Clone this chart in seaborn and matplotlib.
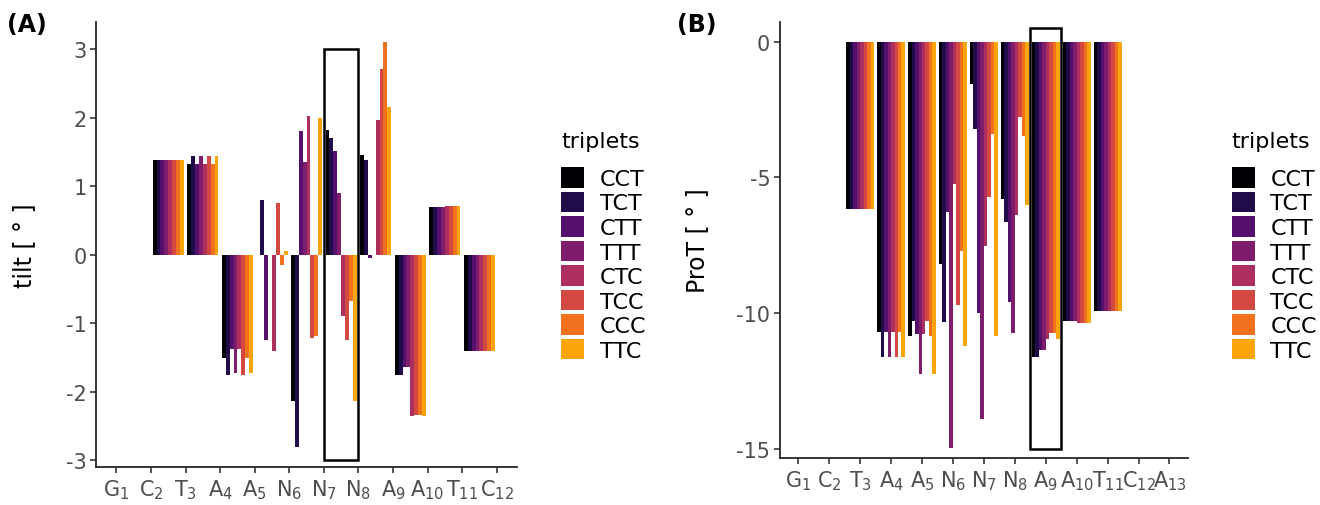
import matplotlib
matplotlib.use("Agg")
import matplotlib.pyplot as plt
import pandas as pd
import seaborn as sns
from matplotlib.patches import Rectangle


sns.set_style("ticks")
plt.rcParams["font.family"] = ["DejaVu Sans"]
plt.rcParams["axes.unicode_minus"] = False
plt.rcParams["text.color"] = "black"
plt.rcParams["axes.labelcolor"] = "black"

# nucleotide positions along the sequence
bases_a = ["G1", "C2", "T3", "A4", "A5", "N6", "N7", "N8", "A9", "A10", "T11", "C12"]
bases_b = bases_a + ["A13"]

triplets = ["CCT", "TCT", "CTT", "TTT", "CTC", "TCC", "CCC", "TTC"]
triplet_colors = ["#000004", "#1f0c48", "#550f6d", "#7e1d6c",
                  "#ac2f5e", "#d44842", "#f2711e", "#fca50a"]

# tilt is a step parameter: first base of each step
tilt_steps = ["C2", "T3", "A4", "A5", "N6", "N7", "N8", "A9", "A10", "T11"]
tilt_cct = [1.38, 1.33, -1.50, -0.01, -2.14, 1.82, 1.45, -1.76, 0.70, -1.41]
tilt_tct = [1.38, 1.44, -1.76, 0.80, -2.81, 1.71, 1.39, -1.76, 0.70, -1.41]
tilt_ctt = [1.38, 1.33, -1.37, -1.25, 1.81, 1.52, -0.04, -1.63, 0.70, -1.41]
tilt_ttt = [1.38, 1.44, -1.72, 0.00, 1.36, 0.90, -0.01, -1.63, 0.70, -1.41]
tilt_ctc = [1.38, 1.33, -1.37, -1.40, 2.03, -0.90, 1.97, -2.35, 0.71, -1.41]
tilt_tcc = [1.38, 1.44, -1.76, 0.76, -1.22, -1.24, 2.71, -2.33, 0.71, -1.41]
tilt_ccc = [1.38, 1.33, -1.50, -0.15, -1.18, -0.68, 3.11, -2.33, 0.71, -1.41]
tilt_ttc = [1.38, 1.44, -1.72, 0.06, 2.00, -2.14, 2.16, -2.35, 0.71, -1.41]

# propeller twist is a base-pair parameter
prot_bases = ["T3", "A4", "A5", "N6", "N7", "N8", "A9", "A10", "T11"]
prot_cct = [-6.17, -10.69, -10.84, -8.19, -1.56, -5.80, -11.62, -10.30, -9.93]
prot_tct = [-6.17, -11.62, -10.30, -10.33, -3.22, -6.65, -11.62, -10.30, -9.93]
prot_ctt = [-6.17, -10.69, -10.76, -6.28, -10.00, -9.59, -11.36, -10.30, -9.93]
prot_ttt = [-6.17, -11.62, -12.25, -14.98, -13.91, -10.74, -11.36, -10.30, -9.93]
prot_ctc = [-6.17, -10.69, -10.76, -5.25, -7.53, -6.39, -10.96, -10.37, -9.93]
prot_tcc = [-6.17, -11.62, -10.30, -9.71, -5.73, -2.78, -10.74, -10.37, -9.93]
prot_ccc = [-6.17, -10.69, -10.84, -7.71, -3.40, -3.48, -10.74, -10.37, -9.93]
prot_ttc = [-6.17, -11.62, -12.25, -11.21, -10.84, -6.02, -10.96, -10.37, -9.93]

# highlighted step / base pair
highlight_a = "N7"
highlight_b = "A9"


def base_label(name):
    return "$\\mathregular{%s_{%s}}$" % (name[0], name[1:])


def long_table(labels, offset, series):
    rows = []
    for trip, values in zip(triplets, series):
        for lab, val in zip(labels, values):
            rows.append({"pos": bases_b.index(lab) + 1 + offset, "triplet": trip, "value": val})
    return pd.DataFrame(rows)


tilt_df = long_table(tilt_steps, 0.5, [tilt_cct, tilt_tct, tilt_ctt, tilt_ttt,
                                       tilt_ctc, tilt_tcc, tilt_ccc, tilt_ttc])
prot_df = long_table(prot_bases, 0.0, [prot_cct, prot_tct, prot_ctt, prot_ttt,
                                       prot_ctc, prot_tcc, prot_ccc, prot_ttc])

fig = plt.figure(figsize=(13.2, 5.06), dpi=100)
ax_a = fig.add_axes([0.0730, 0.0745, 0.3185, 0.8806])
ax_b = fig.add_axes([0.5909, 0.0923, 0.3089, 0.8628])

for ax, df in [(ax_a, tilt_df), (ax_b, prot_df)]:
    sns.barplot(
        data=df, x="pos", y="value", hue="triplet", hue_order=triplets,
        palette=triplet_colors, native_scale=True, width=0.9, gap=0,
        errorbar=None, saturation=1, linewidth=0, ax=ax,
    )

ax_a.set_xlim(0.42, 12.58)
ax_a.set_ylim(-3.10, 3.40)
ax_a.set_xticks(range(1, len(bases_a) + 1))
ax_a.set_xticklabels([base_label(b) for b in bases_a])
ax_a.set_yticks(range(-3, 4))
ax_a.set_ylabel("tilt [ ° ]", fontsize=17)
ax_a.yaxis.set_label_coords(-0.143, 0.5)

ax_b.set_xlim(0.41, 13.59)
ax_b.set_ylim(-15.36, 0.74)
ax_b.set_xticks(range(1, len(bases_b) + 1))
ax_b.set_xticklabels([base_label(b) for b in bases_b])
ax_b.set_yticks([-15, -10, -5, 0])
ax_b.set_ylabel("ProT [ ° ]", fontsize=17)
ax_b.yaxis.set_label_coords(-0.175, 0.5)

# boxes around the highlighted step / base pair
pa = bases_a.index(highlight_a) + 1
ax_a.add_patch(Rectangle((pa, -3), 1, 6, fill=False, edgecolor="black", linewidth=1.8, zorder=5))
pb = bases_b.index(highlight_b) + 1
ax_b.add_patch(Rectangle((pb - 0.5, -15), 1, 15.5, fill=False, edgecolor="black", linewidth=1.8, zorder=5))

for ax in (ax_a, ax_b):
    sns.despine(ax=ax)
    ax.set_xlabel("")
    for side in ("left", "bottom"):
        ax.spines[side].set_linewidth(1.3)
    ax.tick_params(axis="both", labelsize=15, labelcolor="#4d4d4d", length=4, width=1.1, pad=3)

legend_kws = dict(frameon=False, title=None, fontsize=16, handlelength=1.05, handleheight=1.05,
                  labelspacing=0.12, handletextpad=0.7, borderpad=0, borderaxespad=0)
sns.move_legend(ax_a, "upper left", bbox_to_anchor=(0.425, 0.668),
                bbox_transform=fig.transFigure, **legend_kws)
sns.move_legend(ax_b, "upper left", bbox_to_anchor=(0.933, 0.668),
                bbox_transform=fig.transFigure, **legend_kws)
fig.text(0.425, 0.7075, "triplets", fontsize=16, va="baseline")
fig.text(0.933, 0.7075, "triplets", fontsize=16, va="baseline")

fig.text(0.005, 0.975, "(A)", fontsize=17, fontweight="bold", va="top")
fig.text(0.513, 0.975, "(B)", fontsize=17, fontweight="bold", va="top")

fig.savefig("out.png", dpi=100)
